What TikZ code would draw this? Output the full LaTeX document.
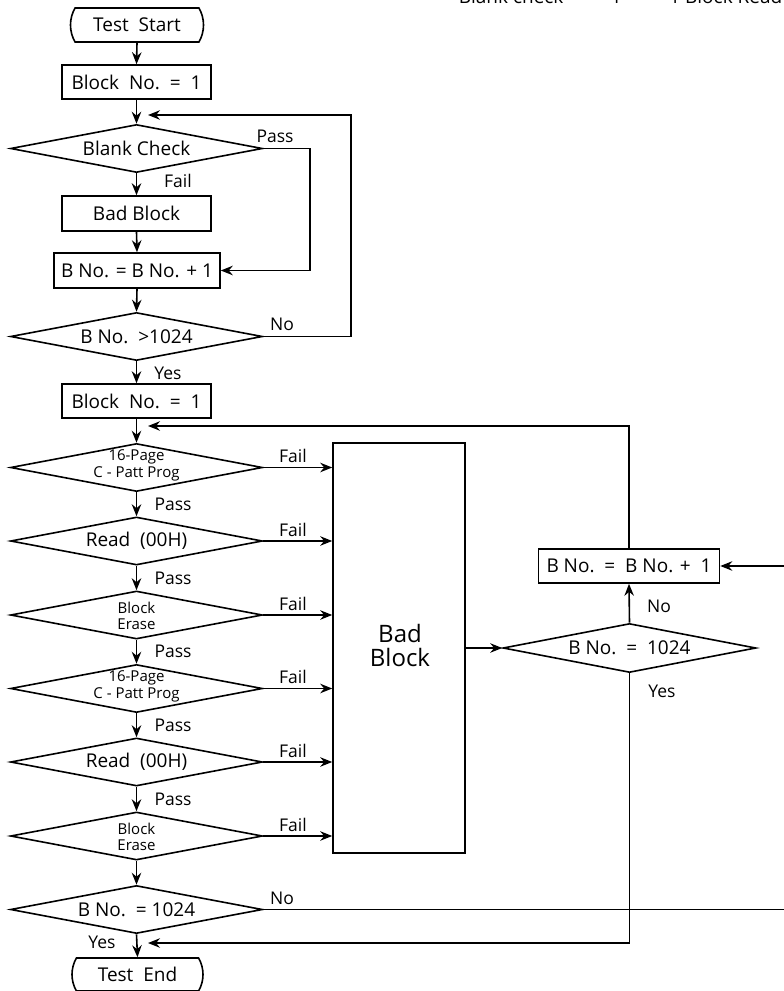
\documentclass[tikz,border=0pt]{standalone}
\usepackage{fontspec}
\setmainfont{Open Sans}
\usetikzlibrary{shapes.geometric,shapes.misc,arrows.meta}
\begin{document}
\begin{tikzpicture}[x=1pt,y=-1pt,
  line width=1.6pt,
  >={Stealth[length=12pt,width=9.5pt,inset=4pt]},
  box/.style={draw,rectangle,minimum height=34pt,inner sep=0pt,font=\fontsize{19}{21}\selectfont},
  term/.style={draw,rounded rectangle,rounded rectangle arc length=60,minimum height=34pt,inner sep=0pt,font=\fontsize{19}{21}\selectfont},
  dia/.style={draw,diamond,aspect=5.25,inner sep=0pt,minimum width=252pt,minimum height=48pt},
  dtxt/.style={font=\fontsize{19}{21}\selectfont,inner sep=0pt},
  stxt/.style={font=\fontsize{15}{16.5}\selectfont,inner sep=0pt,align=center},
  lbl/.style={font=\fontsize{17.5}{19}\selectfont,inner sep=0pt},
]
\useasboundingbox (0,0) rectangle (784,991);

% cut-off header text (only its lower edge is inside the picture)
\node[anchor=base west,inner sep=0pt,font=\fontsize{19}{21}\selectfont] (hdr) at (458,3) {Blank check\quad –\quad 1\quad –\quad 1 Block Read (};

% main column
\node[term,minimum width=133pt] (start) at (137,25) {Test\ \ Start};
\node[box,minimum width=149pt] (b1) at (136.5,82) {Block\ \ No.\ \ =\ \ 1};
\node[dia] (d1) at (136.5,148.5) {};
\node[dtxt] (d1t) at (d1) {Blank Check};
\node[box,minimum width=149pt,minimum height=35pt] (bad1) at (136.5,213.5) {Bad Block};
\node[box,minimum width=166pt,minimum height=35pt] (inc1) at (137,270.5) {B No. = B No. + 1};
\node[dia] (d2) at (136.5,336.5) {};
\node[dtxt] (d2t) at (d2) {B No.\ \ >1024};
\node[box,minimum width=149pt] (b2) at (136.5,401) {Block\ \ No.\ \ =\ \ 1};

\node[dia] (d3) at (136.5,467.5) {};
\node[stxt] (d3t) at (136.5,465.5) {16-Page\\C - Patt Prog};
\node[dia] (d4) at (136.5,541) {};
\node[dtxt] (d4t) at (d4) {Read\ \ (00H)};
\node[dia] (d5) at (136.5,615) {};
\node[stxt] (d5t) at (136.5,616) {Block\\Erase};
\node[dia] (d6) at (136.5,688.5) {};
\node[stxt] (d6t) at (136.5,686.5) {16-Page\\C - Patt Prog};
\node[dia] (d7) at (136.5,762) {};
\node[dtxt] (d7t) at (d7) {Read\ \ (00H)};
\node[dia] (d8) at (136.5,836) {};
\node[stxt] (d8t) at (136.5,837) {Block\\Erase};
\node[dia] (d9) at (136.5,909.5) {};
\node[dtxt] (d9t) at (d9) {B No.\ \ = 1024};
\node[term,minimum width=131pt,minimum height=33pt] (end) at (137.5,974.5) {Test\ \ End};

% right part
\node[draw,rectangle,minimum width=132pt,minimum height=410pt,inner sep=0pt] (bb) at (399,648) {};
\node[inner sep=0pt,align=center,font=\fontsize{24}{24}\selectfont] (bbt) at (400,645) {Bad\\Block};
\node[dia,minimum width=253pt,minimum height=49pt] (dr) at (629.5,648) {};
\node[dtxt] (drt) at (dr) {B No.\ \ =\ \ 1024};
\node[box,minimum width=181pt] (inc2) at (629,566) {B No.\ \ =\ \ B No. +\ \ 1};

% coordinates for connectors
\coordinate (j1) at (148,115);
\coordinate (r1) at (351,115);
\coordinate (p1) at (310,270.5);
\coordinate (j2) at (148,426);
\coordinate (j3) at (148,943);
\coordinate (e1) at (800,909.5);
\coordinate (e2) at (800,566);

% connectors, main column
\draw[->] (start.south) -- (b1.north);
\draw[->] (b1.south) -- (d1.north);
\draw[->] (d1.south) -- (bad1.north);
\draw[->] (bad1.south) -- (inc1.north);
\draw[->] (inc1.south) -- (d2.north);
\draw[->] (d2.south) -- (b2.north);
\draw[->] (b2.south) -- (d3.north);
\draw[->] (d3.south) -- (d4.north);
\draw[->] (d4.south) -- (d5.north);
\draw[->] (d5.south) -- (d6.north);
\draw[->] (d6.south) -- (d7.north);
\draw[->] (d7.south) -- (d8.north);
\draw[->] (d8.south) -- (d9.north);
\draw[->] (d9.south) -- (end.north);

% loops
\draw[->] (d1.east) -| (p1) -- (inc1.east);
\draw[->] (d2.east) -| (r1) -- (j1);
\draw[->] (inc2.north) |- (j2);
\draw[->] (dr.south) |- (j3);
\draw[->] (d9.east) -- (e1) -- (e2) -- (inc2.east);

% fail arrows to bad block
\foreach \d in {d3,d4,d5,d6,d7,d8}
  \draw[->] (\d.east) -- (\d.east -| bb.west);
\draw[->] (bb.east |- dr.west) -- (dr.west);
\draw[->] (dr.north) -- (inc2.south);

% labels
\node[lbl] (l1) at (275,136) {Pass};
\node[lbl] (l2) at (178,181) {Fail};
\node[lbl] (l3) at (282,324) {No};
\node[lbl] (l4) at (168,373) {Yes};
\node[lbl] (f3) at (293,456) {Fail};
\node[lbl] (f4) at (293,529.5) {Fail};
\node[lbl] (f5) at (293,603.5) {Fail};
\node[lbl] (f6) at (293,677) {Fail};
\node[lbl] (f7) at (293,750.5) {Fail};
\node[lbl] (f8) at (293,824.5) {Fail};
\node[lbl] (p3) at (173,504) {Pass};
\node[lbl] (p4) at (173,578) {Pass};
\node[lbl] (p5) at (173,651.5) {Pass};
\node[lbl] (p6) at (173,725) {Pass};
\node[lbl] (p7) at (173,799) {Pass};
\node[lbl] (l9n) at (282,898) {No};
\node[lbl] (l9y) at (102,942) {Yes};
\node[lbl] (lrn) at (659,606) {No};
\node[lbl] (lry) at (662,691) {Yes};
\end{tikzpicture}
\end{document}
